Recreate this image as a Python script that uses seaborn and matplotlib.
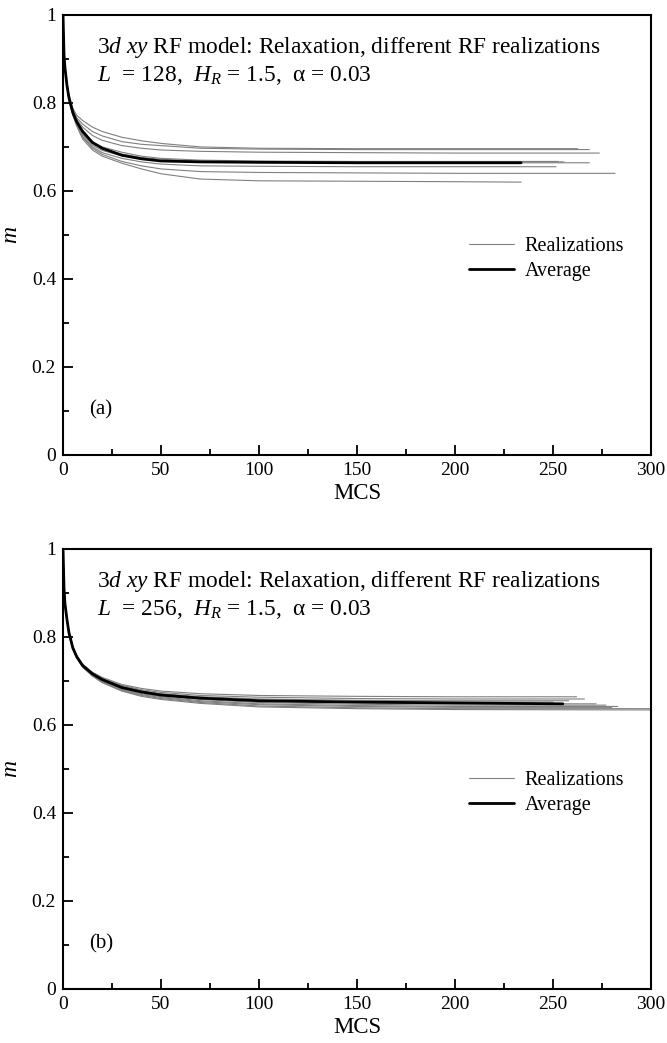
import numpy as np
import pandas as pd
import matplotlib
matplotlib.use("Agg")
import matplotlib.pyplot as plt
from matplotlib.lines import Line2D
from matplotlib.ticker import MultipleLocator
import seaborn as sns

# Monte Carlo time grid shared by all runs; the last point of each run is at its own end time
mcs_grid = [0, 0.5, 1, 2, 3, 5, 7, 10, 15, 20, 30, 40, 50, 70, 100, 150, 200]

# L = 128: individual random-field realizations (values on mcs_grid + final value)
runs_128 = [
    [1.0, 0.912, 0.882, 0.845, 0.820, 0.788, 0.772, 0.760, 0.745, 0.735, 0.722, 0.714, 0.708, 0.700, 0.697, 0.696, 0.696, 0.696],
    [1.0, 0.911, 0.881, 0.843, 0.817, 0.784, 0.766, 0.752, 0.735, 0.725, 0.712, 0.706, 0.703, 0.697, 0.695, 0.694, 0.694, 0.694],
    [1.0, 0.910, 0.880, 0.842, 0.815, 0.781, 0.762, 0.745, 0.726, 0.715, 0.703, 0.697, 0.693, 0.690, 0.688, 0.687, 0.686, 0.686],
    [1.0, 0.910, 0.879, 0.841, 0.813, 0.779, 0.758, 0.738, 0.712, 0.700, 0.688, 0.679, 0.674, 0.670, 0.668, 0.667, 0.667, 0.667],
    [1.0, 0.909, 0.879, 0.840, 0.812, 0.777, 0.755, 0.733, 0.709, 0.696, 0.684, 0.676, 0.672, 0.668, 0.667, 0.666, 0.666, 0.666],
    [1.0, 0.909, 0.878, 0.839, 0.811, 0.775, 0.752, 0.728, 0.704, 0.692, 0.680, 0.673, 0.669, 0.666, 0.665, 0.664, 0.664, 0.664],
    [1.0, 0.908, 0.878, 0.838, 0.810, 0.774, 0.750, 0.724, 0.700, 0.687, 0.674, 0.666, 0.661, 0.657, 0.656, 0.655, 0.655, 0.655],
    [1.0, 0.908, 0.877, 0.838, 0.809, 0.773, 0.749, 0.722, 0.697, 0.683, 0.667, 0.657, 0.650, 0.644, 0.642, 0.641, 0.640, 0.640],
    [1.0, 0.907, 0.876, 0.837, 0.808, 0.772, 0.747, 0.718, 0.693, 0.679, 0.663, 0.650, 0.639, 0.627, 0.623, 0.622, 0.621, 0.620],
]
ends_128 = [262.6, 268.5, 273.6, 252.7, 255.6, 268.5, 251.5, 281.6, 233.7]
avg_128 = [1.0, 0.909, 0.879, 0.840, 0.812, 0.778, 0.757, 0.735, 0.710, 0.697, 0.681, 0.673, 0.668, 0.666, 0.665, 0.664, 0.664, 0.664]
avg_end_128 = 233.7

# L = 256
runs_256 = [
    [1.0, 0.911, 0.876, 0.841, 0.811, 0.777, 0.757, 0.738, 0.720, 0.708, 0.692, 0.683, 0.677, 0.671, 0.667, 0.665, 0.664, 0.664],
    [1.0, 0.911, 0.876, 0.841, 0.811, 0.776, 0.757, 0.737, 0.719, 0.706, 0.690, 0.680, 0.674, 0.667, 0.663, 0.660, 0.659, 0.659],
    [1.0, 0.910, 0.875, 0.840, 0.810, 0.776, 0.756, 0.736, 0.718, 0.705, 0.688, 0.678, 0.671, 0.664, 0.659, 0.656, 0.655, 0.655],
    [1.0, 0.910, 0.875, 0.840, 0.810, 0.775, 0.755, 0.735, 0.717, 0.704, 0.686, 0.676, 0.669, 0.662, 0.656, 0.653, 0.652, 0.652],
    [1.0, 0.910, 0.875, 0.840, 0.810, 0.775, 0.755, 0.735, 0.716, 0.703, 0.685, 0.675, 0.668, 0.660, 0.654, 0.650, 0.648, 0.648],
    [1.0, 0.910, 0.875, 0.840, 0.810, 0.775, 0.754, 0.734, 0.715, 0.701, 0.683, 0.673, 0.666, 0.658, 0.651, 0.647, 0.645, 0.645],
    [1.0, 0.909, 0.874, 0.839, 0.809, 0.774, 0.754, 0.733, 0.714, 0.700, 0.681, 0.671, 0.664, 0.655, 0.648, 0.644, 0.642, 0.642],
    [1.0, 0.909, 0.874, 0.839, 0.809, 0.774, 0.753, 0.733, 0.713, 0.699, 0.680, 0.669, 0.662, 0.653, 0.646, 0.642, 0.640, 0.640],
    [1.0, 0.909, 0.874, 0.839, 0.809, 0.773, 0.753, 0.732, 0.712, 0.697, 0.678, 0.667, 0.660, 0.651, 0.643, 0.639, 0.637, 0.637],
    [1.0, 0.909, 0.874, 0.838, 0.808, 0.773, 0.752, 0.731, 0.711, 0.696, 0.677, 0.665, 0.658, 0.649, 0.641, 0.637, 0.635, 0.634],
]
ends_256 = [262, 266, 258, 250, 272, 277, 283, 280, 300, 305]
avg_256 = [1.0, 0.910, 0.875, 0.840, 0.810, 0.775, 0.755, 0.735, 0.716, 0.703, 0.685, 0.675, 0.668, 0.661, 0.655, 0.652, 0.650, 0.648]
avg_end_256 = 255

panel_labels = ["(a)", "(b)"]
sizes = [128, 256]

sns.set_style("ticks")
plt.rcParams["font.family"] = ["Liberation Serif", "DejaVu Serif"]
plt.rcParams["mathtext.fontset"] = "custom"
plt.rcParams["mathtext.rm"] = "Liberation Serif"
plt.rcParams["mathtext.it"] = "Liberation Serif:italic"
plt.rcParams["axes.linewidth"] = 1.5
plt.rcParams["axes.edgecolor"] = "black"
plt.rcParams["text.color"] = "black"
plt.rcParams["axes.labelcolor"] = "black"
plt.rcParams["xtick.color"] = "black"
plt.rcParams["ytick.color"] = "black"
plt.rcParams["xtick.direction"] = "in"
plt.rcParams["ytick.direction"] = "in"


def runs_frame(runs, ends):
    rows = []
    for i, (vals, end) in enumerate(zip(runs, ends)):
        xs = mcs_grid + [end]
        for x, y in zip(xs, vals):
            rows.append({"MCS": x, "m": y, "run": i})
    return pd.DataFrame(rows)


fig = plt.figure(figsize=(6.67, 10.43), dpi=100)
ax_a = fig.add_axes([0.0945, 0.5638, 0.8816, 0.4219])
ax_b = fig.add_axes([0.0945, 0.0518, 0.8816, 0.4219])

panels = [
    (ax_a, runs_128, ends_128, avg_128, avg_end_128),
    (ax_b, runs_256, ends_256, avg_256, avg_end_256),
]

for k, (ax, runs, ends, avg, avg_end) in enumerate(panels):
    df = runs_frame(runs, ends)
    sns.lineplot(data=df, x="MCS", y="m", units="run", estimator=None,
                 color="#808080", lw=0.8, ax=ax, sort=False, legend=False)
    avg_df = pd.DataFrame({"MCS": mcs_grid + [avg_end], "m": avg})
    sns.lineplot(data=avg_df, x="MCS", y="m", color="black", lw=2.0,
                 ax=ax, sort=False, legend=False)

    ax.set_xlim(0, 300)
    ax.set_ylim(0, 1)
    ax.xaxis.set_major_locator(MultipleLocator(50))
    ax.xaxis.set_minor_locator(MultipleLocator(25))
    ax.yaxis.set_minor_locator(MultipleLocator(0.1))
    ax.set_yticks([0, 0.2, 0.4, 0.6, 0.8, 1.0])
    ax.set_yticklabels(["0", "0.2", "0.4", "0.6", "0.8", "1"])
    ax.tick_params(which="major", length=7, width=1.3, labelsize=14, pad=5)
    ax.tick_params(which="minor", length=4, width=1.3)
    ax.tick_params(top=False, right=False, which="both")
    for s in ax.spines.values():
        s.set_visible(True)
        s.set_linewidth(1.5)

    ax.set_xlabel("MCS", fontsize=16.5, labelpad=3)
    ax.set_ylabel("$m$", fontsize=17, labelpad=7)

    ax.text(0.058, 0.927, r"3$d$ $xy$ RF model: Relaxation, different RF realizations",
            transform=ax.transAxes, fontsize=16.8, va="center", ha="left")
    ax.text(0.058, 0.862, rf"$L$  = {sizes[k]},  $H_R$ = 1.5,  α = 0.03",
            transform=ax.transAxes, fontsize=16.8, va="center", ha="left")
    ax.text(0.045, 0.102, panel_labels[k], transform=ax.transAxes,
            fontsize=15, va="center", ha="left")

    handles = [Line2D([], [], color="#808080", lw=0.8),
               Line2D([], [], color="black", lw=2.0)]
    ax.legend(handles, ["Realizations", "Average"], loc="center left",
              bbox_to_anchor=(0.66, 0.445), frameon=False, fontsize=14.5,
              handlelength=2.2, handletextpad=0.55, labelspacing=0.3)

fig.savefig("out.png", dpi=100)
